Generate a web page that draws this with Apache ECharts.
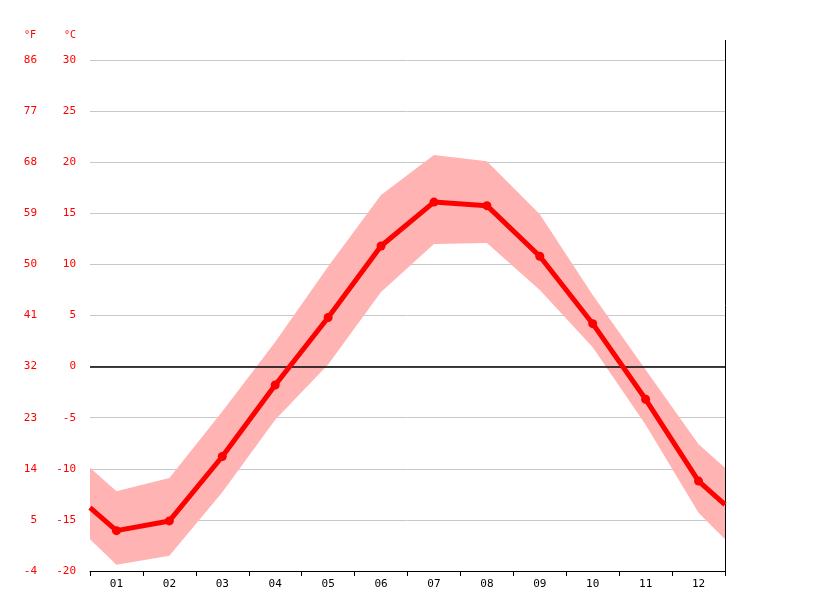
<!DOCTYPE html>
<html><head><meta charset="utf-8">
<script src="https://cdn.jsdelivr.net/npm/echarts@6/dist/echarts.min.js"></script>
<style>html,body{margin:0;padding:0;background:#fff}#c{width:815px;height:611px}</style>
</head><body><div id="c"></div>
<script>
const months = ['01','02','03','04','05','06','07','08','09','10','11','12'];
// positions: 0 = left edge, 0.5..11.5 months, 12 = right edge
const xPos = [0,0.5,1.5,2.5,3.5,4.5,5.5,6.5,7.5,8.5,9.5,10.5,11.5,12];
const meanTemp = [-13.8,-16.05,-15.1,-8.8,-1.8,4.8,11.8,16.1,15.75,10.8,4.2,-3.2,-11.2,-13.5];
const maxTemp = [-9.9,-12.2,-10.9,-4.4,2.4,9.8,16.8,20.7,20.1,14.9,7.0,-0.3,-7.6,-9.9];
const minTemp = [-16.9,-19.4,-18.5,-12.3,-5.2,0.2,7.3,12.0,12.1,7.5,1.9,-5.7,-14.3,-16.9];
const fLabels = ['-4','5','14','23','32','41','50','59','68','77','86'];

const meanPts = xPos.map((x,i)=>[x,meanTemp[i]]);
const font = 'DejaVu Sans Mono';
const chart = echarts.init(document.getElementById('c'));
chart.setOption({
  animation:false,
  grid:{left:90,right:90,top:60,bottom:40},
  xAxis:[
    {type:'category',data:months,boundaryGap:true,position:'bottom',
     axisLine:{onZero:false,lineStyle:{color:'#000'}},axisTick:{show:true,length:5,lineStyle:{color:'#000'}},
     axisLabel:{color:'#000',fontFamily:font,fontSize:11,margin:8},splitLine:{show:false}},
    {type:'value',min:0,max:12,show:false}
  ],
  yAxis:[
    {type:'value',min:-20,max:30,interval:5,position:'left',
     axisLine:{show:false},axisTick:{show:false},
     axisLabel:{color:'#ff0000',fontFamily:font,fontSize:11,margin:14},
     splitLine:{lineStyle:{color:'#c8c8c8'}}},
    {type:'value',min:-4,max:86,interval:9,position:'left',offset:45,
     axisLine:{show:false},axisTick:{show:false},splitLine:{show:false},
     axisLabel:{color:'#ff0000',fontFamily:font,fontSize:11,
       formatter:(v)=>fLabels[Math.round((v+4)/9)]}}
  ],
  graphic:[
    {type:'line',shape:{x1:725.5,y1:40,x2:725.5,y2:571},style:{stroke:'#000',lineWidth:1}},
    {type:'text',left:24,top:30,style:{text:'°F',fill:'#ff0000',font:'10px "DejaVu Sans Mono"'}},
    {type:'text',left:64,top:30,style:{text:'°C',fill:'#ff0000',font:'10px "DejaVu Sans Mono"'}}
  ],
  series:[
    {type:'custom',xAxisIndex:1,yAxisIndex:0,silent:true,z:1,
     data:[0],
     renderItem:(params,api)=>{
       const pts=[];
       xPos.forEach((x,i)=>pts.push(api.coord([x,maxTemp[i]])));
       for(let i=xPos.length-1;i>=0;i--) pts.push(api.coord([xPos[i],minTemp[i]]));
       return {type:'polygon',shape:{points:pts},style:{fill:'#ffb3b3'}};
     }},
    {type:'line',xAxisIndex:1,yAxisIndex:0,data:[],
     markLine:{silent:true,symbol:'none',label:{show:false},lineStyle:{color:'#000',type:'solid',width:1.5},data:[{yAxis:0}]}},
    {type:'line',xAxisIndex:1,yAxisIndex:0,data:meanPts,
     lineStyle:{color:'#ff0000',width:5},itemStyle:{color:'#ff0000'},
     symbol:(v)=> (v[0]===0||v[0]===12)?'none':'circle',symbolSize:9,showSymbol:true,z:5}
  ]
});
</script></body></html>
